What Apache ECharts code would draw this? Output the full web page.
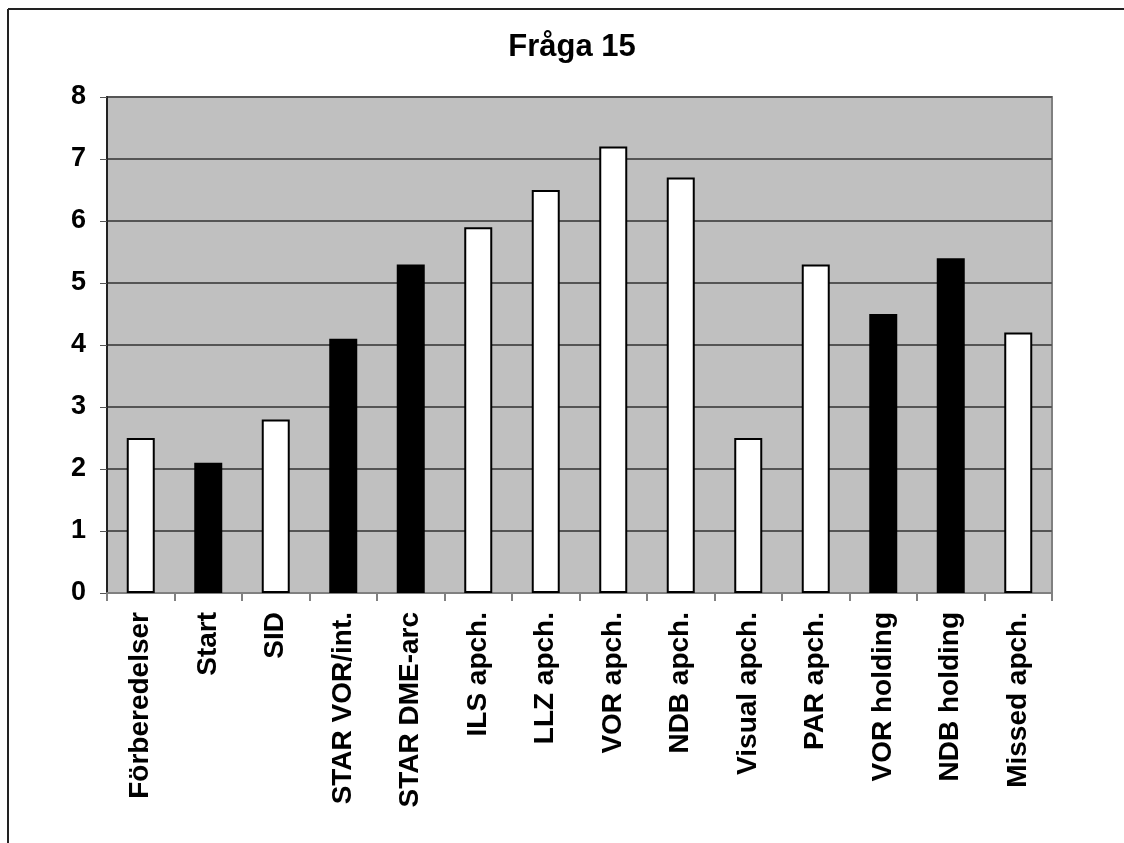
<!DOCTYPE html>
<html>
<head>
<meta charset="utf-8">
<script src="https://cdn.jsdelivr.net/npm/echarts@6/dist/echarts.min.js"></script>
<style>
html,body{margin:0;padding:0;background:#fff;}
#c{width:1124px;height:843px;}
</style>
</head>
<body>
<div id="c"></div>
<script>
const categories = ['Förberedelser','Start','SID','STAR VOR/int.','STAR DME-arc','ILS apch.','LLZ apch.','VOR apch.','NDB apch.','Visual apch.','PAR apch.','VOR holding','NDB holding','Missed apch.'];
const values = [2.5, 2.1, 2.8, 4.1, 5.3, 5.9, 6.5, 7.2, 6.7, 2.5, 5.3, 4.5, 5.4, 4.2];
const darkCategories = ['Start','STAR VOR/int.','STAR DME-arc','VOR holding','NDB holding'];
const yTicks = [0,1,2,3,4,5,6,7,8];

const chart = echarts.init(document.getElementById('c'));
const font = 'Arial, "Liberation Sans", sans-serif';
chart.setOption({
  animation: false,
  backgroundColor: '#ffffff',
  title: {
    text: 'Fråga 15',
    left: 567, top: 27, textAlign: 'center',
    textStyle: {fontFamily: font, fontSize: 31, fontWeight: 'bold', color: '#000'}
  },
  graphic: [
    {type: 'line', shape: {x1: 8, y1: 9, x2: 1124, y2: 9}, style: {stroke: '#222', lineWidth: 2}},
    {type: 'line', shape: {x1: 8, y1: 9, x2: 8, y2: 843}, style: {stroke: '#222', lineWidth: 2}}
  ],
  grid: {
    left: 107, right: 72, top: 97, bottom: 250,
    show: true, backgroundColor: '#C0C0C0', borderColor: '#808080', borderWidth: 2
  },
  xAxis: {
    type: 'category',
    data: categories,
    axisLine: {show: true, lineStyle: {color: '#808080', width: 2}},
    axisTick: {show: true, length: 8, lineStyle: {color: '#808080', width: 2}},
    axisLabel: {
      rotate: 90, margin: 19, interval: 0,
      fontFamily: font, fontSize: 28, fontWeight: 'bold', color: '#000'
    }
  },
  yAxis: {
    type: 'value',
    min: yTicks[0], max: yTicks[yTicks.length-1], interval: 1,
    axisLine: {show: true, lineStyle: {color: '#222', width: 2}},
    axisTick: {show: true, length: 7, lineStyle: {color: '#555', width: 1}},
    splitLine: {show: true, lineStyle: {color: '#555', width: 2}},
    axisLabel: {
      margin: 21, fontFamily: font, fontSize: 27, fontWeight: 'bold', color: '#000'
    }
  },
  series: [{
    type: 'bar',
    barWidth: 28,
    data: values.map((v, i) => ({
      value: v,
      itemStyle: {
        color: darkCategories.includes(categories[i]) ? '#000000' : '#ffffff',
        borderColor: '#000', borderWidth: 2
      }
    }))
  }]
});
</script>
</body>
</html>
